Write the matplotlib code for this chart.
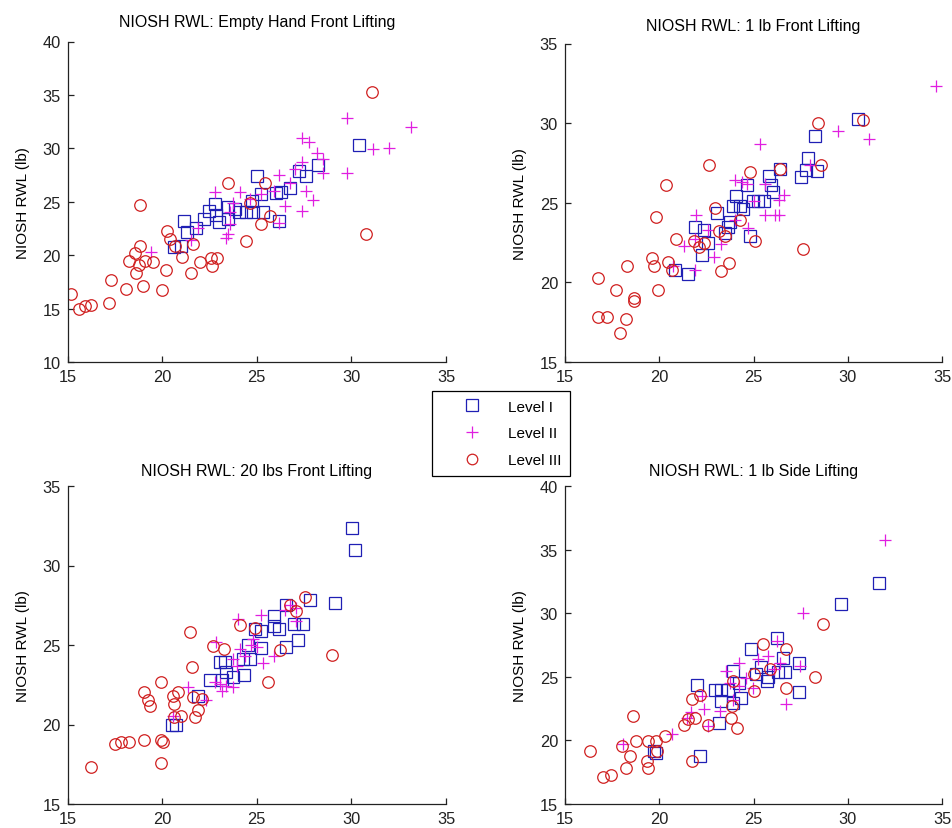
import matplotlib
matplotlib.use('Agg')
import matplotlib.pyplot as plt
from matplotlib.lines import Line2D

plt.rcParams['font.family'] = ['Liberation Sans', 'DejaVu Sans']

levels = ['Level I', 'Level II', 'Level III']

# Empty hand front lifting
p1_l1_x = [30.4, 28.25, 27.6, 27.25, 26.75, 26.3, 26.0, 26.15, 25.0, 25.2, 24.75, 24.8, 25.35, 24.05,
           23.85, 23.5, 23.5, 23.0, 22.8, 22.5, 22.85, 22.2, 21.8, 21.3, 21.15, 21.0, 20.65, 24.45]
p1_l1_y = [30.3, 28.4, 27.4, 27.9, 26.25, 25.9, 25.8, 23.2, 27.45, 25.7, 25.1, 24.0, 24.0, 24.0,
           24.3, 24.5, 23.4, 23.1, 24.8, 24.15, 23.8, 23.4, 22.5, 22.2, 23.2, 20.9, 20.8, 24.0]
p1_l2_x = [33.15, 29.75, 29.75, 31.15, 32.0, 27.4, 27.75, 28.2, 28.5, 28.5, 27.4, 27.6, 27.95, 27.4,
           26.15, 26.5, 26.2, 25.9, 22.8, 24.1, 23.75, 23.6, 23.35, 23.5, 21.9, 21.5, 19.4, 25.25,
           24.65, 27.0, 26.75, 23.6]
p1_l2_y = [32.0, 32.8, 27.65, 29.9, 30.0, 31.0, 30.6, 29.6, 29.0, 27.65, 28.75, 26.0, 25.15, 24.1,
           27.5, 24.6, 23.0, 26.0, 25.9, 25.9, 24.9, 22.9, 21.6, 22.0, 22.5, 21.4, 20.25, 25.7,
           25.25, 28.1, 26.8, 24.0]
p1_l3_x = [31.1, 30.75, 23.5, 18.85, 25.45, 25.2, 25.7, 24.45, 24.65, 20.25, 20.4, 20.7, 21.05, 21.65,
           20.2, 21.5, 22.0, 22.6, 22.9, 22.65, 20.0, 19.0, 18.1, 17.3, 17.2, 15.2, 15.6, 15.9,
           16.25, 18.25, 18.55, 18.85, 18.6, 18.8, 19.1, 19.5]
p1_l3_y = [35.3, 22.0, 26.8, 24.7, 26.8, 22.9, 23.7, 21.3, 24.9, 22.3, 21.5, 20.9, 19.8, 21.0,
           18.6, 18.3, 19.4, 19.7, 19.7, 19.0, 16.7, 17.1, 16.8, 17.7, 15.5, 16.4, 15.0, 15.25,
           15.3, 19.5, 20.2, 20.9, 18.3, 19.1, 19.5, 19.4]

# 1 lb front lifting
p2_l1_x = [30.55, 28.25, 27.9, 27.8, 27.5, 28.35, 26.4, 25.8, 25.95, 26.05, 25.55, 25.25, 24.95, 24.65,
           24.05, 23.9, 24.3, 24.45, 23.05, 23.75, 23.65, 23.5, 24.8, 21.9, 22.35, 22.6, 22.25, 20.85, 21.5]
p2_l1_y = [30.25, 29.2, 27.8, 27.05, 26.6, 27.0, 27.1, 26.7, 26.1, 25.7, 25.1, 25.1, 25.1, 26.1,
           25.4, 24.8, 24.8, 24.6, 24.35, 23.8, 23.5, 23.1, 22.9, 23.5, 23.3, 22.5, 21.75, 20.75, 20.5]
p2_l2_x = [34.7, 29.5, 31.15, 25.35, 24.0, 24.4, 24.65, 21.95, 21.3, 21.9, 22.9, 23.25, 22.6, 24.0,
           24.7, 25.0, 25.6, 26.15, 26.35, 26.6, 26.35, 25.6, 28.0, 20.75, 21.9]
p2_l2_y = [32.3, 29.5, 29.0, 28.7, 26.4, 26.3, 26.2, 24.2, 22.3, 20.8, 21.6, 22.4, 23.3, 23.9,
           23.4, 25.1, 24.2, 24.25, 24.25, 25.5, 25.2, 26.2, 27.4, 21.0, 22.7]
p2_l3_x = [28.4, 30.8, 28.6, 27.6, 22.65, 20.35, 19.85, 24.8, 26.4, 22.95, 20.9, 21.85, 22.1, 22.35,
           23.15, 23.5, 24.3, 25.1, 23.3, 23.7, 19.6, 19.7, 20.45, 20.65, 18.3, 16.75, 17.7, 19.95,
           18.65, 18.65, 16.75, 17.25, 18.25, 17.9]
p2_l3_y = [30.0, 30.2, 27.4, 22.1, 27.4, 26.1, 24.1, 26.9, 27.1, 24.7, 22.7, 22.6, 22.2, 22.5,
           23.2, 22.9, 23.9, 22.6, 20.7, 21.2, 21.5, 21.05, 21.3, 20.8, 21.0, 20.3, 19.55, 19.55,
           19.0, 18.8, 17.85, 17.85, 17.7, 16.8]

# 20 lbs front lifting
p3_l1_x = [30.05, 30.2, 29.15, 27.8, 26.55, 27.45, 26.95, 27.2, 26.55, 25.9, 26.2, 25.9, 24.9, 25.2,
           24.55, 25.2, 24.65, 24.25, 23.05, 23.3, 24.3, 23.75, 23.35, 22.55, 23.15, 21.9, 20.5, 20.75]
p3_l1_y = [32.35, 31.0, 27.65, 27.8, 27.5, 26.3, 26.3, 25.3, 24.85, 26.85, 26.0, 26.2, 26.0, 25.9,
           25.0, 24.8, 24.1, 24.1, 23.95, 23.95, 23.1, 23.0, 23.3, 22.8, 22.8, 21.8, 19.95, 19.95]
p3_l2_x = [24.0, 25.25, 22.85, 24.1, 24.8, 24.7, 23.75, 24.4, 25.35, 25.9, 23.05, 23.4, 23.75, 23.15,
           22.8, 21.35, 22.3, 20.6, 26.75, 27.1, 27.1, 26.5, 25.0, 23.95]
p3_l2_y = [26.65, 26.9, 25.2, 24.75, 25.4, 25.0, 24.1, 24.3, 23.85, 24.3, 22.55, 22.45, 22.35, 22.1,
           22.65, 22.35, 21.55, 20.55, 27.5, 27.3, 26.5, 27.2, 24.85, 23.7]
p3_l3_x = [16.25, 17.5, 17.85, 18.25, 19.05, 19.95, 20.05, 19.95, 19.05, 19.25, 19.35, 19.95, 21.45, 21.6,
           22.7, 23.25, 24.1, 25.6, 28.95, 27.55, 26.75, 27.05, 24.9, 26.25, 20.6, 20.85, 20.65, 21.0,
           20.65, 21.65, 22.1, 21.9, 21.75]
p3_l3_y = [17.35, 18.8, 18.9, 18.9, 19.0, 19.05, 18.9, 17.6, 22.05, 21.55, 21.15, 22.7, 25.8, 23.6,
           24.95, 24.75, 26.25, 22.7, 24.35, 28.0, 27.5, 27.15, 26.1, 24.7, 21.8, 22.05, 21.3, 20.55,
           20.45, 21.7, 21.6, 20.9, 20.45]

# 1 lb side lifting
p4_l1_x = [31.65, 29.65, 26.25, 24.85, 26.55, 27.4, 27.4, 26.65, 26.3, 25.75, 25.4, 25.7, 25.15, 24.25,
           23.9, 23.65, 23.3, 23.9, 24.35, 23.25, 22.95, 22.0, 23.15, 22.15, 19.7, 19.85]
p4_l1_y = [32.35, 30.7, 28.05, 27.2, 26.45, 26.1, 23.8, 25.35, 25.35, 24.95, 25.75, 24.65, 25.2, 24.55,
           25.45, 24.0, 23.1, 22.95, 23.35, 24.0, 24.0, 24.35, 21.4, 18.8, 19.2, 19.0]
p4_l2_x = [31.95, 27.6, 26.25, 26.75, 27.45, 25.75, 25.25, 24.25, 23.55, 23.75, 24.25, 24.95, 26.4, 26.1,
           22.25, 22.35, 23.2, 22.6, 21.45, 21.7, 20.7, 18.1, 23.9, 24.6]
p4_l2_y = [35.75, 30.0, 27.85, 22.9, 25.85, 26.65, 26.4, 26.1, 25.45, 24.55, 24.3, 24.15, 26.1, 25.6,
           23.5, 22.5, 22.3, 21.1, 21.8, 22.2, 20.5, 19.7, 23.2, 24.9]
p4_l3_x = [16.3, 17.0, 17.45, 18.25, 18.05, 18.45, 18.75, 18.6, 19.35, 19.4, 19.4, 19.85, 19.9, 20.3,
           21.3, 21.55, 21.9, 21.75, 21.75, 22.6, 22.15, 23.8, 24.15, 23.85, 25.05, 25.05, 25.5, 26.7,
           26.7, 28.25, 28.7, 23.9, 25.85]
p4_l3_y = [19.15, 17.15, 17.25, 17.8, 19.55, 18.75, 19.95, 21.9, 18.4, 17.85, 19.95, 19.95, 19.15, 20.35,
           21.2, 21.65, 21.8, 23.25, 18.35, 21.25, 23.55, 21.8, 21.0, 22.7, 23.9, 25.2, 27.55, 27.15,
           24.15, 24.95, 29.15, 24.65, 25.6]

titles = ['NIOSH RWL: Empty Hand Front Lifting', 'NIOSH RWL: 1 lb Front Lifting',
          'NIOSH RWL: 20 lbs Front Lifting', 'NIOSH RWL: 1 lb Side Lifting']
y_limits = [(10, 40), (15, 35), (15, 35), (15, 40)]
x_ticks = [15, 20, 25, 30, 35]

panels = [
    [(p1_l1_x, p1_l1_y), (p1_l2_x, p1_l2_y), (p1_l3_x, p1_l3_y)],
    [(p2_l1_x, p2_l1_y), (p2_l2_x, p2_l2_y), (p2_l3_x, p2_l3_y)],
    [(p3_l1_x, p3_l1_y), (p3_l2_x, p3_l2_y), (p3_l3_x, p3_l3_y)],
    [(p4_l1_x, p4_l1_y), (p4_l2_x, p4_l2_y), (p4_l3_x, p4_l3_y)],
]

# marker style per level (MATLAB-ish b s / m + / r o)
styles = [dict(marker='s', color='#1f1fb4', ms=8.7),
          dict(marker='+', color='#e01ee0', ms=9.2),
          dict(marker='o', color='#d02020', ms=8.3)]

W, H = 952, 829
# axes boxes in pixels: left, top, right, bottom
boxes = [(67.5, 42.5, 446, 363), (565, 44.5, 942, 363),
         (67.5, 487, 446, 805), (565, 487, 942, 805)]
title_pads = [11, 10, 8, 8]

fig = plt.figure(figsize=(W / 100, H / 100), dpi=100)

for i, (l, t, r, b) in enumerate(boxes):
    ax = fig.add_axes([l / W, 1 - b / H, (r - l) / W, (b - t) / H])
    for (xs, ys), st in zip(panels[i], styles):
        ax.plot(xs, ys, linestyle='none', marker=st['marker'], markersize=st['ms'],
                markerfacecolor='none', markeredgecolor=st['color'], markeredgewidth=0.9)
    ax.set_xlim(15, 35)
    ax.set_ylim(*y_limits[i])
    ax.set_xticks(x_ticks)
    ax.set_yticks(range(y_limits[i][0], y_limits[i][1] + 1, 5))
    ax.spines['top'].set_visible(False)
    ax.spines['right'].set_visible(False)
    for s in ('left', 'bottom'):
        ax.spines[s].set_color('#222222')
        ax.spines[s].set_linewidth(0.9)
    ax.tick_params(direction='in', length=4, width=0.9, labelsize=11.8, colors='#222222', pad=5)
    ax.set_title(titles[i], fontsize=11.5, pad=title_pads[i])
    ax.set_ylabel('NIOSH RWL (lb)', fontsize=11, labelpad=9)

handles = [Line2D([], [], linestyle='none', marker=st['marker'], markersize=st['ms'] - 0.7,
                  markerfacecolor='none', markeredgecolor=st['color'], markeredgewidth=0.9)
           for st in styles]
leg = fig.legend(handles, levels, loc='upper left', bbox_to_anchor=(432 / W, 1 - 392 / H),
                 fontsize=11, frameon=True, fancybox=False, edgecolor='black', framealpha=1,
                 borderaxespad=0, borderpad=0.56, handlelength=4.1, handletextpad=0.3,
                 labelspacing=0.84)
leg.get_frame().set_linewidth(0.9)

fig.savefig('out.png', dpi=100)
plt.close(fig)
